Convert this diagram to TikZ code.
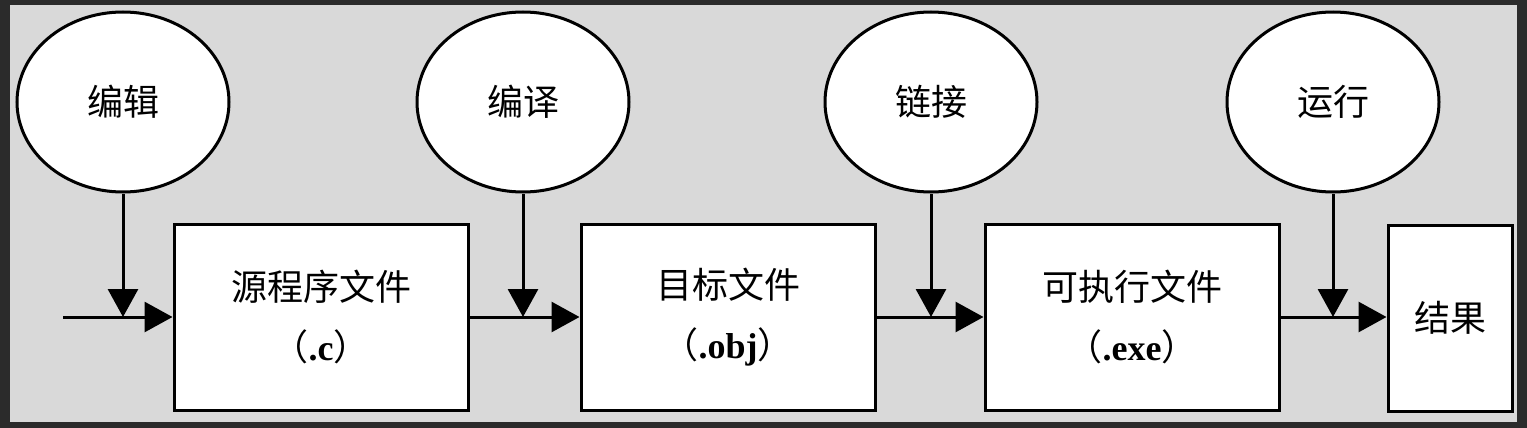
\documentclass[tikz,border=0pt]{standalone}
\usepackage{fontspec}
\setmainfont{Liberation Serif}
\newfontfamily\cjk{Noto Sans CJK SC}
\usetikzlibrary{arrows.meta,shapes.geometric,positioning,calc}
\definecolor{panel}{gray}{0.85}
\definecolor{frame}{gray}{0.17}

\begin{document}
\begin{tikzpicture}[x=0.5pt,y=-0.5pt]

\tikzset{stepnode/.style={draw=black,line width=1.5pt,fill=white,shape=ellipse,inner sep=0pt,minimum width=106pt,minimum height=90pt,font=\cjk\fontsize{18}{20}\selectfont},
filebox/.style={draw=black,line width=1.5pt,fill=white,shape=rectangle,inner sep=0pt,minimum width=147pt,minimum height=93pt,align=center,font=\fontsize{18}{30}\selectfont},
flow/.style={line width=1.5pt,-{Triangle[length=14pt,width=15pt]}}}

% Background
\fill[frame] (0,0) rectangle (1527,428);
\fill[panel] (10,5) rectangle (1517,422);

% Step nodes
\node[stepnode] (edit) at (123,102) {编辑};
\node[stepnode] (compile) at (523,102) {编译};
\node[stepnode] (link) at (931,102) {链接};
\node[stepnode] (run) at (1333,102) {运行};

% File nodes
\node[filebox] (src) at (321,317) {{\cjk 源程序文件}\\{\cjk （}\textbf{.c}{\cjk ）}};
\node[filebox] (obj) at (728,317) {{\cjk 目标文件}\\{\cjk （}\textbf{.obj}{\cjk ）}};
\node[filebox] (exe) at (1132,317) {{\cjk 可执行文件}\\{\cjk （}\textbf{.exe}{\cjk ）}};
\node[filebox,minimum width=62pt] (result) at (1450,318) {\cjk 结果};

% Junctions
\coordinate (start) at (63,317);
\coordinate (j1) at (edit |- start);
\coordinate (j2) at (compile |- start);
\coordinate (j3) at (link |- start);
\coordinate (j4) at (run |- start);

% Edges
\draw[flow] (start) -- (src); \draw[flow] (src) -- (obj); \draw[flow] (obj) -- (exe); \draw[flow] (exe.east) -- (result.west |- j4);
\draw[flow] (edit) -- (j1); \draw[flow] (compile) -- (j2); \draw[flow] (link) -- (j3); \draw[flow] (run) -- (j4);

\end{tikzpicture}
\end{document}
